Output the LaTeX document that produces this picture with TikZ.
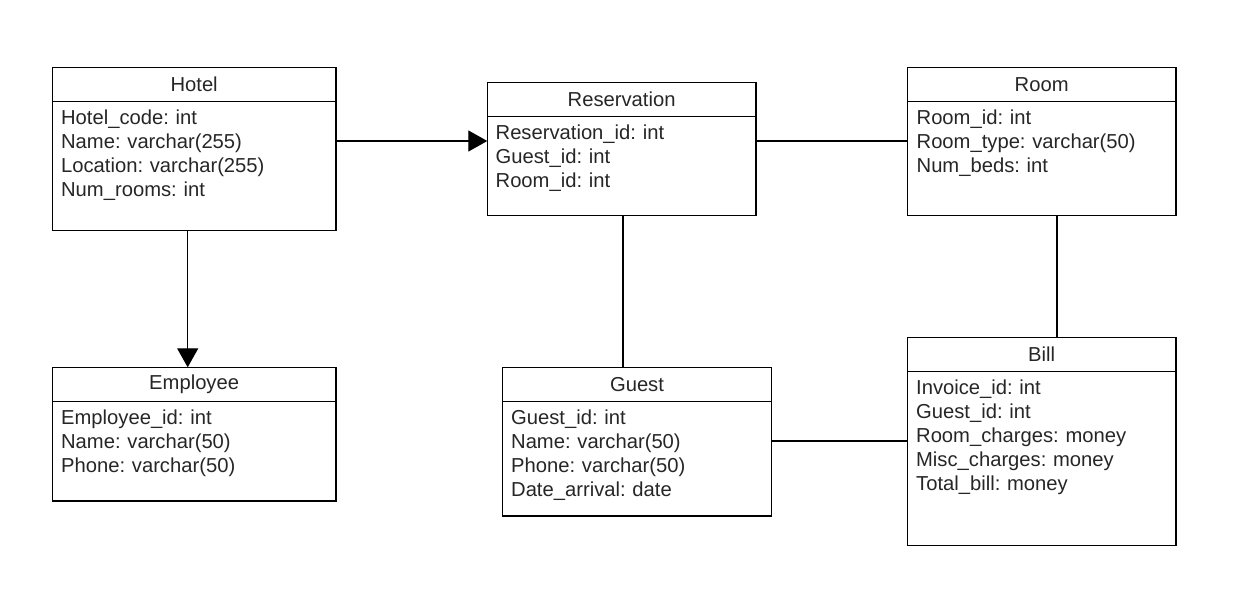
\documentclass[tikz,border=0pt]{standalone}
\usepackage{fontspec}
\setmainfont{Liberation Sans}
\usetikzlibrary{positioning,arrows.meta,calc}

\newcommand{\entfont}{\fontsize{11.5}{13.66}\selectfont\frenchspacing}
\tikzset{
    head/.style={draw, line width=0.7pt, anchor=north west, inner sep=0pt, outer sep=0pt, minimum height=0.688cm, font=\entfont, text=black!85},
    body/.style={draw, line width=0.7pt, inner sep=0pt, outer sep=0pt},
    attrs/.style={anchor=base west, text width=5.2cm, align=left, inner sep=0pt, font=\entfont, text=black!85},
    link/.style={line width=0.7pt},
    arrowlink/.style={line width=0.7pt, -{Triangle[length=0.38cm, width=0.42cm]}}
}

\begin{document}
\begin{tikzpicture}
    \useasboundingbox (0,0) rectangle (24.86,-12.14);

    % entities
    \node [head, minimum width=5.674cm] at (1.046,-1.346) (hotel) {Hotel};
    \node [body, minimum width=5.674cm, minimum height=2.58cm, below=0pt of hotel] (hotelbody) {};
    \node [attrs] at ($(hotelbody.north west)+(0.17,-0.452)$) (hotelattrs) {Hotel\_code: int\\Name: varchar(255)\\Location: varchar(255)\\Num\_rooms: int};

    \node [head, minimum width=5.374cm] at (9.746,-1.646) (res) {Reservation};
    \node [body, minimum width=5.374cm, minimum height=1.98cm, below=0pt of res] (resbody) {};
    \node [attrs] at ($(resbody.north west)+(0.16,-0.452)$) (resattrs) {Reservation\_id: int\\Guest\_id: int\\Room\_id: int};

    \node [head, minimum width=5.374cm] at (18.146,-1.346) (room) {Room};
    \node [body, minimum width=5.374cm, minimum height=2.28cm, below=0pt of room] (roombody) {};
    \node [attrs] at ($(roombody.north west)+(0.18,-0.452)$) (roomattrs) {Room\_id: int\\Room\_type: varchar(50)\\Num\_beds: int};

    \node [head, minimum width=5.674cm] at (1.046,-7.346) (employee) {Employee};
    \node [body, minimum width=5.674cm, minimum height=1.986cm, below=0pt of employee] (employeebody) {};
    \node [attrs] at ($(employeebody.north west)+(0.17,-0.452)$) (employeeattrs) {Employee\_id: int\\Name: varchar(50)\\Phone: varchar(50)};

    \node [head, minimum width=5.388cm] at (10.046,-7.346) (guest) {Guest};
    \node [body, minimum width=5.388cm, minimum height=2.286cm, below=0pt of guest] (guestbody) {};
    \node [attrs] at ($(guestbody.north west)+(0.17,-0.452)$) (guestattrs) {Guest\_id: int\\Name: varchar(50)\\Phone: varchar(50)\\Date\_arrival: date};

    \node [head, minimum width=5.374cm] at (18.146,-6.746) (bill) {Bill};
    \node [body, minimum width=5.374cm, minimum height=3.48cm, below=0pt of bill] (billbody) {};
    \node [attrs] at ($(billbody.north west)+(0.17,-0.452)$) (billattrs) {Invoice\_id: int\\Guest\_id: int\\Room\_charges: money\\Misc\_charges: money\\Total\_bill: money};

    % rows and columns of the links
    \coordinate (toprow) at (0,-2.82);
    \coordinate (botrow) at (0,-8.82);
    \coordinate (leftcol) at (3.754,0);
    \coordinate (midcol) at (12.46,0);
    \coordinate (rightcol) at (21.14,0);

    \path [draw, arrowlink] (hotelbody.east |- toprow) -- (resbody.west |- toprow);
    \path [draw, link] (resbody.east |- toprow) -- (roombody.west |- toprow);
    \path [draw, arrowlink] (hotelbody.south -| leftcol) -- (employee.north -| leftcol);
    \path [draw, link] (resbody.south -| midcol) -- (guest.north -| midcol);
    \path [draw, link] (roombody.south -| rightcol) -- (bill.north -| rightcol);
    \path [draw, link] (guestbody.east |- botrow) -- (billbody.west |- botrow);
\end{tikzpicture}
\end{document}
